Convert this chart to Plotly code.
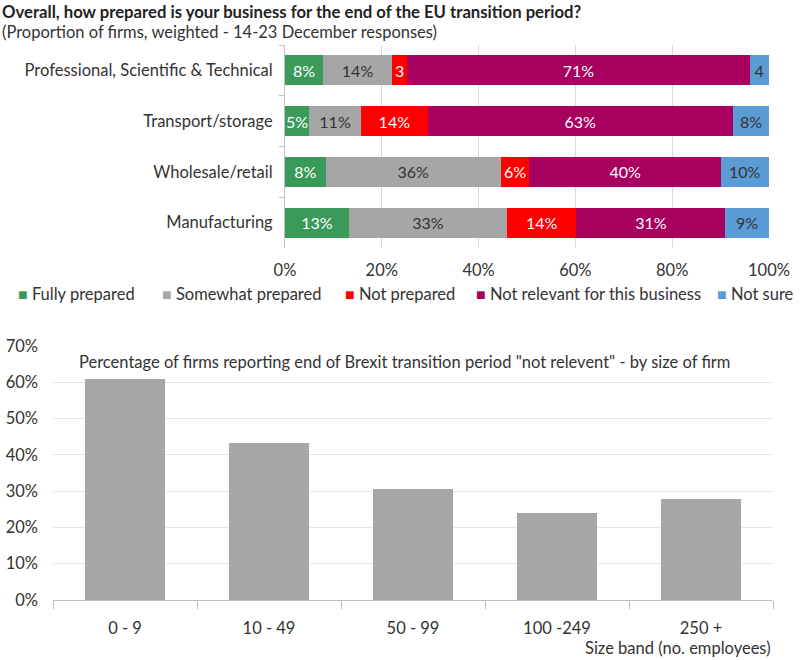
import plotly.graph_objects as go

# ---------------- data ----------------
sectors = ["Professional, Scientific & Technical", "Transport/storage",
           "Wholesale/retail", "Manufacturing"]
series_names = ["Fully prepared", "Somewhat prepared", "Not prepared",
                "Not relevant for this business", "Not sure"]
fully_prepared = [7.9, 5.0, 8.4, 13.2]
somewhat_prepared = [14.2, 10.7, 36.2, 32.7]
not_prepared = [3.2, 13.8, 5.9, 14.3]
not_relevant = [70.7, 63.0, 39.6, 30.8]
not_sure = [3.9, 7.6, 9.8, 9.0]

size_bands = ["0 - 9", "10 - 49", "50 - 99", "100 -249", "250 +"]
not_relevant_by_size = [60.9, 43.3, 30.6, 24.0, 27.9]

# ---------------- style ----------------
FONT = "Lato"
TXT = "#333333"
FS = 16.5
colors = ["#3a9a5a", "#a6a6a6", "#ff0000", "#a8005f", "#5b9bd5"]
label_colors = ["white", "#333333", "white", "white", "#333333"]
W, H = 800, 660


def px_x(x):
    return x / W


def px_y(y):
    return 1 - y / H


def fmt(v):
    r = int(round(v))
    return f"{r}" if v < 4.5 else f"{r}%"


fig = go.Figure()
all_series = [fully_prepared, somewhat_prepared, not_prepared, not_relevant, not_sure]
for name, vals, col, tcol in zip(series_names, all_series, colors, label_colors):
    fig.add_trace(go.Bar(
        y=sectors, x=vals, orientation="h", name=name,
        marker=dict(color=col, line=dict(width=0)),
        text=[fmt(v) for v in vals], textposition="inside",
        insidetextanchor="middle", textangle=0, constraintext="none",
        insidetextfont=dict(color=tcol, size=16, family=FONT),
        xaxis="x", yaxis="y", showlegend=False, hoverinfo="skip",
    ))

fig.add_trace(go.Bar(
    x=size_bands, y=not_relevant_by_size, marker=dict(color="#a6a6a6", line=dict(width=0)),
    xaxis="x2", yaxis="y2", showlegend=False, hoverinfo="skip", width=0.56,
))

fig.update_layout(
    width=W, height=H, margin=dict(l=0, r=0, t=0, b=0, autoexpand=False),
    paper_bgcolor="white", plot_bgcolor="white",
    font=dict(family=FONT, color=TXT, size=FS),
    barmode="stack", bargap=0.41,
    uniformtext=dict(minsize=16, mode="show"),
    xaxis=dict(domain=[px_x(285), px_x(769)], range=[0, 100], dtick=20,
               ticksuffix="%", showgrid=True, gridcolor="#d9d9d9", gridwidth=1,
               zeroline=False, showline=False, ticks="", anchor="y",
               automargin=False, ticklabelstandoff=10,
               tickfont=dict(size=FS, color=TXT)),
    yaxis=dict(domain=[px_y(248), px_y(45)], autorange="reversed",
               categoryorder="array", categoryarray=sectors,
               showline=True, linecolor="#bfbfbf", ticks="outside",
               tickson="boundaries", ticklen=5, tickcolor="#bfbfbf",
               anchor="x", automargin=False, ticklabelstandoff=8,
               tickfont=dict(size=FS, color=TXT)),
    xaxis2=dict(domain=[px_x(53), px_x(773)], anchor="y2",
                showline=True, linecolor="#bfbfbf", ticks="outside",
                tickson="boundaries", ticklen=8, tickcolor="#bfbfbf",
                automargin=False, ticklabelstandoff=13,
                tickfont=dict(size=FS, color=TXT)),
    yaxis2=dict(domain=[px_y(600), px_y(346)], anchor="x2", range=[0, 70],
                dtick=10, ticksuffix="%", showgrid=True, gridcolor="#e3e3e3",
                zeroline=False, showline=False, automargin=False,
                ticklabelstandoff=14, tickfont=dict(size=FS, color=TXT)),
)

annotations = [
    dict(text="<b>Overall, how prepared is your business for the end of the EU transition period?</b>",
         x=px_x(0), y=px_y(12), xanchor="left", yanchor="middle",
         font=dict(size=16.7, color="#222222")),
    dict(text="(Proportion of firms, weighted - 14-23 December responses)",
         x=px_x(0), y=px_y(32), xanchor="left", yanchor="middle",
         font=dict(size=FS, color=TXT)),
    dict(text='Percentage of firms reporting end of Brexit transition period "not relevent" - by size of firm',
         x=px_x(77), y=px_y(362), xanchor="left", yanchor="middle",
         font=dict(size=FS, color=TXT)),
    dict(text="Size band (no. employees)", x=px_x(773), y=px_y(648),
         xanchor="right", yanchor="middle", font=dict(size=FS, color=TXT)),
]
legend_x = [16, 160, 343, 474, 796]
legend_anchor = ["left", "left", "left", "left", "right"]
for name, col, lx, anc in zip(series_names, colors, legend_x, legend_anchor):
    annotations.append(dict(
        text=f'<span style="color:{col};font-size:16px">■</span> {name}',
        x=px_x(lx), y=px_y(294), xanchor=anc, yanchor="middle",
        font=dict(size=FS, color=TXT)))
for a in annotations:
    a.update(xref="paper", yref="paper", showarrow=False)
fig.update_layout(annotations=annotations)

fig.write_html("out.html", config={"displayModeBar": False},
               post_script="document.body.style.margin='0px';document.body.style.overflow='hidden';")
